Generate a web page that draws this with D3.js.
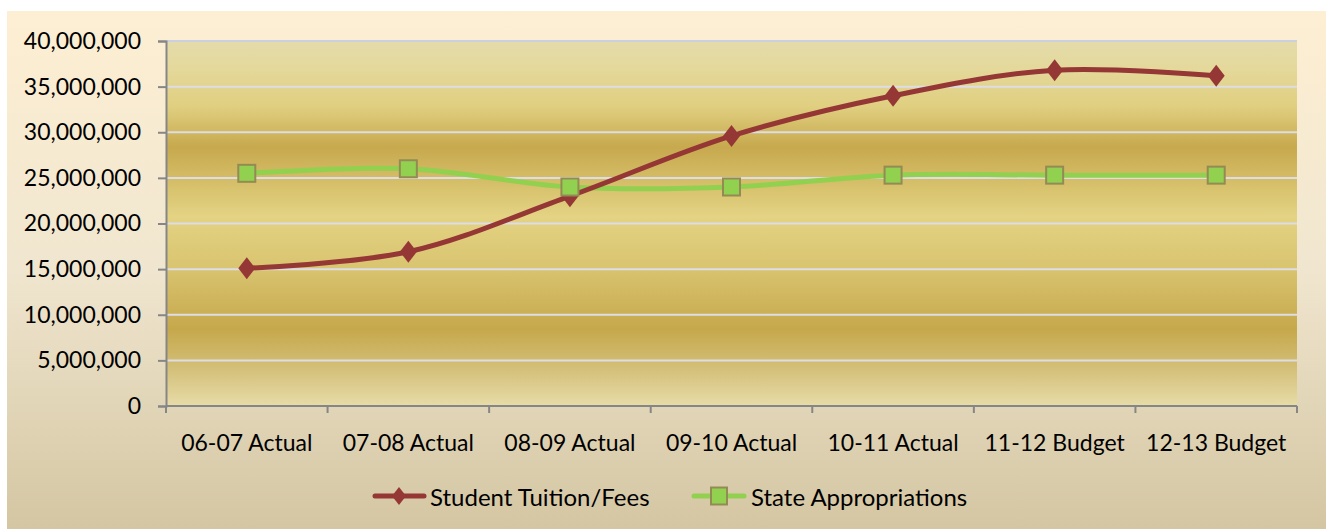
<!DOCTYPE html>
<html>
<head>
<meta charset="utf-8">
<script src="https://cdn.jsdelivr.net/npm/d3@7"></script>
<style>
  html, body { margin: 0; padding: 0; background: #ffffff; }
  svg { display: block; }
  text { font-family: Lato, "Open Sans", sans-serif; fill: #000; }
</style>
</head>
<body>
<svg id="chart" width="1329" height="529"></svg>
<script>
const categories = ["06-07 Actual", "07-08 Actual", "08-09 Actual", "09-10 Actual", "10-11 Actual", "11-12 Budget", "12-13 Budget"];
const tuitionFees = [15100000, 16900000, 23000000, 29600000, 34000000, 36800000, 36200000];
const stateAppropriations = [25500000, 26000000, 24000000, 24000000, 25300000, 25300000, 25300000];
const yTicks = [0, 5000000, 10000000, 15000000, 20000000, 25000000, 30000000, 35000000, 40000000];
const seriesNames = ["Student Tuition/Fees", "State Appropriations"];

const svg = d3.select("#chart");
const W = 1329, H = 529;
const plot = { left: 166, right: 1297, top: 41, bottom: 406 };

const defs = svg.append("defs");
const outerGrad = defs.append("linearGradient").attr("id", "outerGrad").attr("x1", 0).attr("y1", 0).attr("x2", 0).attr("y2", 1);
[[0, "#fdefd3"], [0.5, "#f0e6cf"], [1, "#d4c6a2"]].forEach(s => outerGrad.append("stop").attr("offset", s[0]).attr("stop-color", s[1]));

const plotGrad = defs.append("linearGradient").attr("id", "plotGrad").attr("x1", 0).attr("y1", 0).attr("x2", 0).attr("y2", 1);
[[0, "#e4dbab"], [0.08, "#e4d89a"], [0.18, "#e0cf80"], [0.29, "#c7a94e"], [0.48, "#e3d383"], [0.62, "#d9c470"], [0.79, "#c6a84c"], [0.9, "#d4c07a"], [1, "#e7dca8"]]
  .forEach(s => plotGrad.append("stop").attr("offset", s[0]).attr("stop-color", s[1]));

svg.append("rect").attr("x", 7).attr("y", 11).attr("width", 1319).attr("height", H - 11).attr("fill", "url(#outerGrad)");

const x = d3.scaleBand().domain(categories).range([plot.left, plot.right]).padding(0);
const y = d3.scaleLinear().domain([0, 40000000]).range([plot.bottom, plot.top]);

svg.append("rect").attr("x", plot.left).attr("y", plot.top)
  .attr("width", plot.right - plot.left).attr("height", plot.bottom - plot.top)
  .attr("fill", "url(#plotGrad)");

// gridlines
svg.append("g").selectAll("line").data(yTicks.filter(d => d > 0)).join("line")
  .attr("x1", plot.left).attr("x2", plot.right)
  .attr("y1", d => y(d)).attr("y2", d => y(d))
  .attr("stroke", d => d === 40000000 ? "#c8d0e2" : "#dcdde6").attr("stroke-width", 2);

// y axis
const fmt = d3.format(",");
const yAxis = d3.axisLeft(y).tickValues(yTicks).tickFormat(d => fmt(d)).tickSize(8).tickPadding(17);
const gy = svg.append("g").attr("transform", `translate(${plot.left},0)`).call(yAxis);
gy.select(".domain").attr("stroke", "#868686").attr("stroke-width", 2);
gy.selectAll(".tick line").attr("stroke", "#868686").attr("stroke-width", 2);
gy.selectAll(".tick text").attr("font-size", 23).attr("font-family", "Lato, sans-serif").attr("fill", "#000");

// x axis
const gx = svg.append("g").attr("transform", `translate(0,${plot.bottom})`);
gx.append("line").attr("x1", plot.left).attr("x2", plot.right).attr("y1", 0).attr("y2", 0)
  .attr("stroke", "#868686").attr("stroke-width", 2);
const bounds = categories.map(c => x(c)).concat([plot.right]);
gx.selectAll("line.tk").data(bounds).join("line").attr("class", "tk")
  .attr("x1", d => d).attr("x2", d => d).attr("y1", 0).attr("y2", 7)
  .attr("stroke", "#868686").attr("stroke-width", 2);
gx.selectAll("text").data(categories).join("text")
  .attr("x", d => x(d) + x.bandwidth() / 2).attr("y", 45)
  .attr("text-anchor", "middle").attr("font-size", 23).text(d => d);

// lines
const line = d3.line().x((d, i) => x(categories[i]) + x.bandwidth() / 2).y(d => y(d)).curve(d3.curveCatmullRom.alpha(0.5));
svg.append("path").datum(stateAppropriations).attr("d", line).attr("fill", "none").attr("stroke", "#92d050").attr("stroke-width", 5);
svg.append("path").datum(tuitionFees).attr("d", line).attr("fill", "none").attr("stroke", "#953735").attr("stroke-width", 5);

const diamond = (cx, cy, hw, hh) => `M${cx},${cy - hh}L${cx + hw},${cy}L${cx},${cy + hh}L${cx - hw},${cy}Z`;

svg.append("g").selectAll("path").data(tuitionFees).join("path")
  .attr("d", (d, i) => diamond(x(categories[i]) + x.bandwidth() / 2, y(d), 8.5, 11))
  .attr("fill", "#953735");

svg.append("g").selectAll("rect").data(stateAppropriations).join("rect")
  .attr("x", (d, i) => x(categories[i]) + x.bandwidth() / 2 - 8.5)
  .attr("y", d => y(d) - 8.5).attr("width", 17).attr("height", 17)
  .attr("fill", "#92d050").attr("stroke", "#948a54").attr("stroke-width", 2);

// legend
const lg = svg.append("g");
const ly = 496;
lg.append("line").attr("x1", 375).attr("x2", 424).attr("y1", ly).attr("y2", ly).attr("stroke", "#953735").attr("stroke-width", 5).attr("stroke-linecap", "round");
lg.append("path").attr("d", diamond(399, ly, 7, 9)).attr("fill", "#953735");
lg.append("text").attr("x", 430).attr("y", 506).attr("font-size", 24).text(seriesNames[0]);
lg.append("line").attr("x1", 694).attr("x2", 744).attr("y1", ly).attr("y2", ly).attr("stroke", "#92d050").attr("stroke-width", 5).attr("stroke-linecap", "round");
lg.append("rect").attr("x", 711).attr("y", ly - 8.5).attr("width", 16).attr("height", 17).attr("fill", "#92d050").attr("stroke", "#948a54").attr("stroke-width", 2);
lg.append("text").attr("x", 751).attr("y", 506).attr("font-size", 24).text(seriesNames[1]);
</script>
</body>
</html>
